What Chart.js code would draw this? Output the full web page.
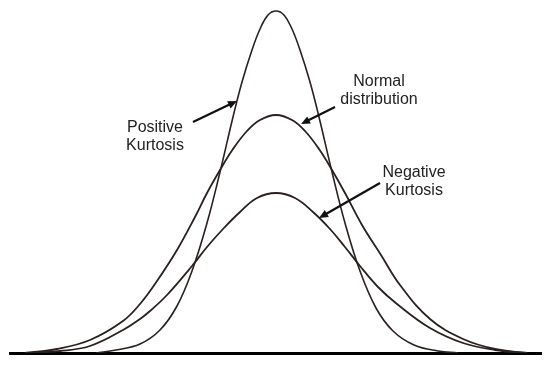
<!DOCTYPE html>
<html lang="en">
<head>
    <meta charset="UTF-8">
    <title>Kurtosis</title>
    <script src="https://cdn.jsdelivr.net/npm/chart.js"></script>
    <style>
        body {
            margin: 0;
            background: #fff;
        }
        #kurtosisChart {
            display: block;
        }
    </style>
</head>
<body>
    <canvas id="kurtosisChart" width="550" height="367"></canvas>

    <script>
        // values: x position along the axis, height above the baseline
        const positiveX = [96, 116, 140, 160, 177, 192, 207, 220, 233, 242, 252, 260, 268, 276, 284, 292, 300, 310, 319, 332, 345, 360, 376, 393, 414, 438, 458];
        const positiveY = [0, 3, 9, 23, 47, 82, 130, 181, 236, 271, 303, 324, 338, 342, 338, 324, 303, 271, 236, 181, 130, 82, 45, 22, 8, 2, 0];

        const normalX = [25, 57, 90, 123, 140, 157, 177, 195, 207, 220, 233, 247, 260, 276, 292, 305, 319, 332, 345, 362, 381, 400, 430, 463, 495, 527];
        const normalY = [0, 4, 13, 32, 49, 72, 103, 136, 160, 183, 204, 222, 233, 238, 233, 222, 204, 183, 160, 128, 98, 68, 34, 14, 4, 0];

        const negativeX = [25, 60, 90, 123, 140, 150, 167, 192, 207, 223, 240, 257, 276, 295, 313, 330, 345, 360, 378, 397, 430, 463, 495, 527];
        const negativeY = [0, 2, 7, 23, 34, 42, 58, 87, 106, 124, 141, 155, 160, 155, 141, 124, 106, 87, 66, 49, 25, 10, 3, 0];

        const seriesNames = ['Positive Kurtosis', 'Normal distribution', 'Negative Kurtosis'];

        // callout labels: text lines, arrow tail and arrow head (chart units)
        const callouts = [
            { lines: ['Positive', 'Kurtosis'], tx: 155, ty: 221, tail: [193, 231], head: [237, 252] },
            { lines: ['Normal', 'distribution'], tx: 379, ty: 267, tail: [335, 246], head: [301, 229] },
            { lines: ['Negative', 'Kurtosis'], tx: 414, ty: 176, tail: [380, 170], head: [319, 135] }
        ];

        function toPoints(xs, ys) {
            return xs.map((x, i) => ({ x: x, y: ys[i] }));
        }

        const calloutPlugin = {
            id: 'callouts',
            afterDraw(chart) {
                const ctx = chart.ctx;
                const xs = chart.scales.x;
                const ys = chart.scales.y;
                ctx.save();
                ctx.strokeStyle = '#111';
                ctx.font = '16px "Liberation Sans", Arial, sans-serif';
                ctx.textAlign = 'center';
                ctx.textBaseline = 'alphabetic';
                callouts.forEach(c => {
                    const px = xs.getPixelForValue(c.tx);
                    const py = ys.getPixelForValue(c.ty);
                    ctx.fillStyle = '#222';
                    c.lines.forEach((line, i) => ctx.fillText(line, px, py + i * 18));

                    const x1 = xs.getPixelForValue(c.tail[0]);
                    const y1 = ys.getPixelForValue(c.tail[1]);
                    const x2 = xs.getPixelForValue(c.head[0]);
                    const y2 = ys.getPixelForValue(c.head[1]);
                    const ang = Math.atan2(y2 - y1, x2 - x1);
                    const cos = Math.cos(ang), sin = Math.sin(ang);
                    ctx.lineWidth = 2.2;
                    ctx.beginPath();
                    ctx.moveTo(x1, y1);
                    ctx.lineTo(x2 - 6 * cos, y2 - 6 * sin);
                    ctx.stroke();
                    ctx.beginPath();
                    ctx.moveTo(x2, y2);
                    ctx.lineTo(x2 - 9 * cos + 4 * sin, y2 - 9 * sin - 4 * cos);
                    ctx.lineTo(x2 - 9 * cos - 4 * sin, y2 - 9 * sin + 4 * cos);
                    ctx.closePath();
                    ctx.fillStyle = '#111';
                    ctx.fill();
                });
                ctx.restore();
            }
        };

        const lineStyle = {
            borderColor: '#2b2020',
            borderWidth: 1.8,
            pointRadius: 0,
            fill: false,
            tension: 0.4
        };

        new Chart(document.getElementById('kurtosisChart').getContext('2d'), {
            type: 'line',
            data: {
                datasets: [
                    Object.assign({ label: seriesNames[0], data: toPoints(positiveX, positiveY) }, lineStyle, { borderWidth: 1.6 }),
                    Object.assign({ label: seriesNames[1], data: toPoints(normalX, normalY) }, lineStyle),
                    Object.assign({ label: seriesNames[2], data: toPoints(negativeX, negativeY) }, lineStyle)
                ]
            },
            options: {
                responsive: false,
                animation: false,
                layout: { padding: { left: 10, right: 9, top: 0, bottom: 14 } },
                plugins: {
                    legend: { display: false },
                    tooltip: { enabled: false }
                },
                scales: {
                    x: {
                        type: 'linear',
                        min: 10,
                        max: 541,
                        ticks: { display: false },
                        grid: { display: false, drawTicks: false },
                        border: { display: true, color: '#000', width: 3 }
                    },
                    y: {
                        display: false,
                        min: 0,
                        max: 353
                    }
                }
            },
            plugins: [calloutPlugin]
        });
    </script>
</body>
</html>
